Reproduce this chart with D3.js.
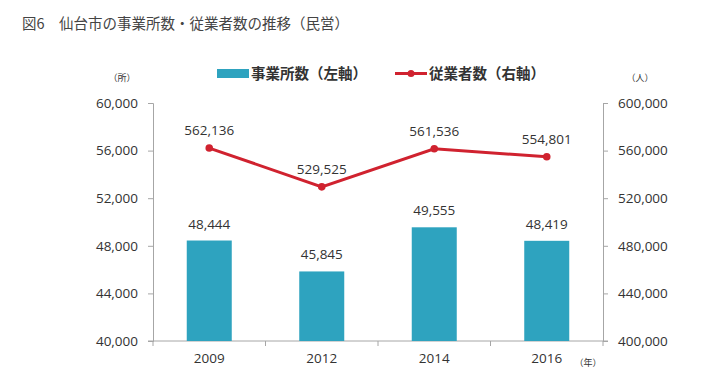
<!DOCTYPE html>
<html>
<head>
<meta charset="utf-8">
<script src="https://cdn.jsdelivr.net/npm/d3@7"></script>
<style>
  body { margin: 0; background: #fff; }
  svg { display: block; font-family: "Open Sans", "Noto Sans CJK JP", sans-serif; }
</style>
</head>
<body>
<svg id="chart" width="720" height="378"></svg>
<script>
// data
const years = ["2009", "2012", "2014", "2016"];
const offices = [48444, 45845, 49555, 48419];      // 事業所数 (left axis)
const workers = [562136, 529525, 561536, 554801];  // 従業者数 (right axis)
const leftTicks = [40000, 44000, 48000, 52000, 56000, 60000];
const rightTicks = [400000, 440000, 480000, 520000, 560000, 600000];

const svg = d3.select("#chart");
const fmt = d3.format(",");
const barColor = "#2ea3bf", lineColor = "#d0222f", axisColor = "#a6a6a6", textColor = "#333";

const plotL = 153, plotR = 603, plotT = 103, plotB = 341;

let x = d3.scaleBand().domain(years).range([plotL, plotR]).paddingInner(0.6).paddingOuter(0.3);
let xPoint = d3.scalePoint().domain(years).range([plotL, plotR]).padding(0.5);
let yL = d3.scaleLinear().domain([40000, 60000]).range([plotB, plotT]);
let yR = d3.scaleLinear().domain([400000, 600000]).range([plotB, plotT]);

// title
svg.append("text")
  .attr("x", 22).attr("y", 29)
  .attr("font-family", "'Noto Sans CJK JP', sans-serif")
  .attr("font-size", 14.5).attr("fill", "#444")
  .text("図6\u3000仙台市の事業所数・従業者数の推移（民営）");

// axes
let axL = svg.append("g").attr("transform", `translate(${plotL},0)`)
  .call(d3.axisLeft(yL).tickValues(leftTicks).tickFormat(fmt).tickSize(5).tickPadding(10));
let axR = svg.append("g").attr("transform", `translate(${plotR},0)`)
  .call(d3.axisRight(yR).tickValues(rightTicks).tickFormat(fmt).tickSize(5).tickPadding(10));

// category boundaries on x axis
let bounds = d3.range(years.length + 1).map(i => plotL + i * (plotR - plotL) / years.length);
let axB = svg.append("g").attr("transform", `translate(0,${plotB})`);
axB.append("line").attr("x1", plotL - 5).attr("x2", plotR + 5).attr("stroke", axisColor);
axB.selectAll(".bt").data(bounds).join("line")
  .attr("x1", d => d).attr("x2", d => d).attr("y1", 0).attr("y2", 5).attr("stroke", axisColor);
axB.selectAll(".yl").data(years).join("text")
  .attr("x", d => xPoint(d)).attr("y", 22)
  .attr("text-anchor", "middle").attr("font-size", 13.5).attr("fill", textColor)
  .text(d => d);

[axL, axR].forEach(g => {
  g.select(".domain").attr("stroke", axisColor);
  g.selectAll(".tick line").attr("stroke", axisColor);
  g.selectAll(".tick text").attr("font-size", 13.5).attr("fill", textColor)
    .attr("font-family", "'Open Sans', sans-serif");
});

// bars
svg.selectAll(".bar").data(offices).join("rect")
  .attr("x", (d, i) => x(years[i]))
  .attr("width", x.bandwidth())
  .attr("y", d => yL(d))
  .attr("height", d => plotB - yL(d))
  .attr("fill", barColor);

svg.selectAll(".barlab").data(offices).join("text")
  .attr("x", (d, i) => xPoint(years[i]))
  .attr("y", d => yL(d) - 12)
  .attr("text-anchor", "middle").attr("font-size", 13.5).attr("fill", textColor)
  .text(d => fmt(d));

// line
let line = d3.line().x((d, i) => xPoint(years[i])).y(d => yR(d));
svg.append("path").datum(workers)
  .attr("d", line).attr("fill", "none")
  .attr("stroke", lineColor).attr("stroke-width", 3);
svg.selectAll(".dot").data(workers).join("circle")
  .attr("cx", (d, i) => xPoint(years[i])).attr("cy", d => yR(d))
  .attr("r", 3.8).attr("fill", lineColor);
svg.selectAll(".linelab").data(workers).join("text")
  .attr("x", (d, i) => xPoint(years[i]))
  .attr("y", d => yR(d) - 13)
  .attr("text-anchor", "middle").attr("font-size", 13.5).attr("fill", textColor)
  .text(d => fmt(d));

// unit labels
const small = { "font-size": 9, "fill": textColor, "font-family": "'Noto Sans CJK JP', sans-serif" };
function unit(txt, ux, uy) {
  let t = svg.append("text").attr("x", ux).attr("y", uy).attr("text-anchor", "middle").text(txt);
  Object.entries(small).forEach(([k, v]) => t.attr(k, v));
}
unit("（所）", 122, 81);
unit("（人）", 640, 81);
unit("（年）", 588, 366);

// legend
let lg = svg.append("g").attr("font-family", "'Noto Sans CJK JP', sans-serif")
  .attr("font-size", 14.5).attr("font-weight", "bold").attr("fill", textColor);
lg.append("rect").attr("x", 217).attr("y", 69).attr("width", 32).attr("height", 9).attr("fill", barColor);
lg.append("text").attr("x", 251).attr("y", 79).text("事業所数（左軸）");
lg.append("line").attr("x1", 395).attr("x2", 427).attr("y1", 73.5).attr("y2", 73.5)
  .attr("stroke", lineColor).attr("stroke-width", 3);
lg.append("circle").attr("cx", 411).attr("cy", 73.5).attr("r", 3.5).attr("fill", lineColor);
lg.append("text").attr("x", 429).attr("y", 79).text("従業者数（右軸）");
</script>
</body>
</html>
